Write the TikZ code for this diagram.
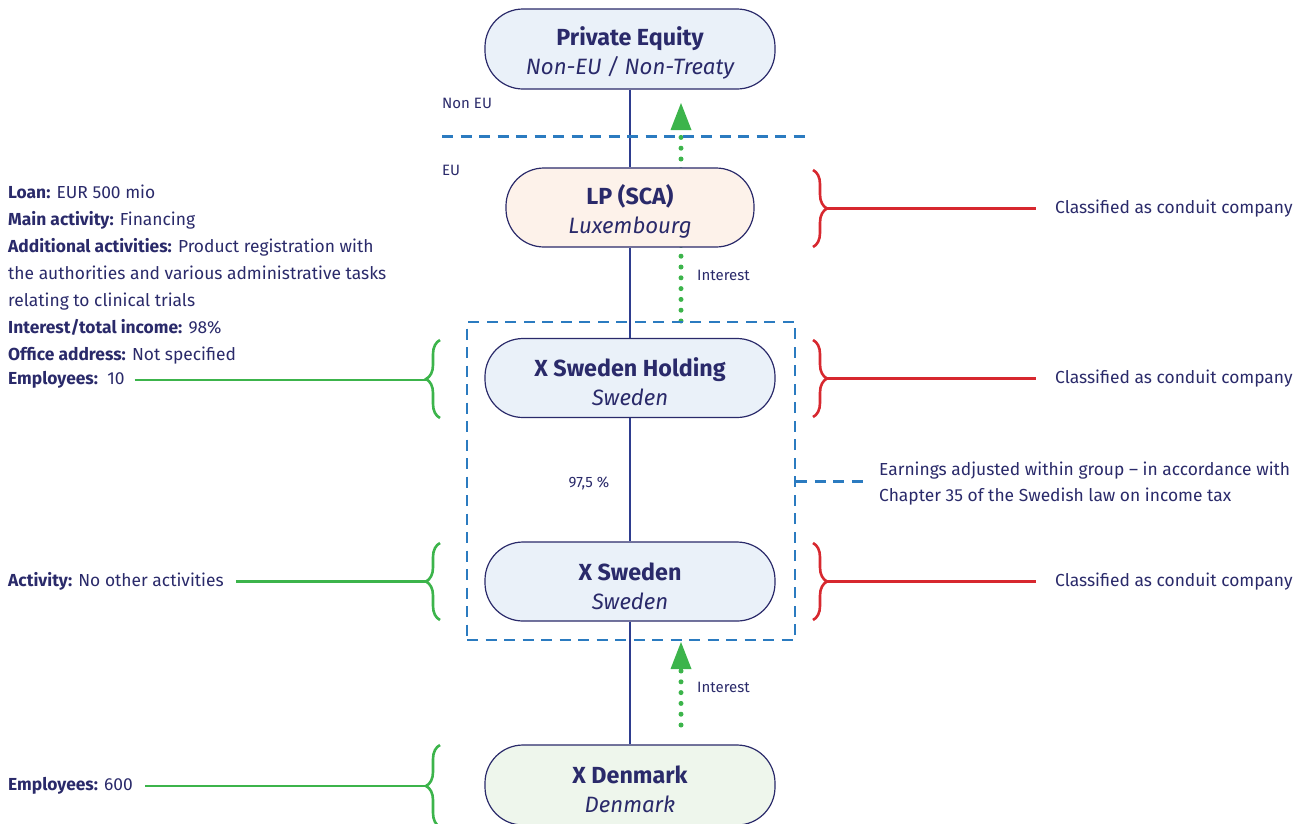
\documentclass[tikz,border=0pt]{standalone}
\usepackage{fontspec}
\setmainfont{Fira Sans}
\usetikzlibrary{arrows.meta,decorations.pathreplacing}
\definecolor{ink}{HTML}{2A2A6A}
\definecolor{stem}{HTML}{2E3D8F}
\definecolor{eublue}{HTML}{2B7BC0}
\definecolor{condred}{HTML}{D7282F}
\definecolor{flowgreen}{HTML}{3CB44B}
\definecolor{bluefill}{HTML}{EAF1F9}
\definecolor{lpfill}{HTML}{FDF2EA}
\definecolor{dkfill}{HTML}{EEF6EC}

\begin{document}
\begin{tikzpicture}[x=1pt,y=-1pt,
  firm/.style={draw=ink,line width=1.2pt,rounded corners=38pt,minimum width=290pt,minimum height=80pt,align=center,text=ink,font=\fontsize{22.2}{29}\selectfont},
  own/.style={draw=stem,line width=2pt},
  eu/.style={draw=eublue,line width=3pt,dash pattern=on 11pt off 7.5pt},
  grp/.style={draw=eublue,line width=2.6pt,dash pattern=on 11pt off 7.5pt,minimum width=328pt,minimum height=318pt,inner sep=0pt},
  flow/.style={draw=flowgreen,line width=5pt,line cap=round,dash pattern=on 0pt off 10.8pt,-{Triangle[length=27pt,width=21pt,line width=0pt]}},
  redline/.style={draw=condred,line width=2.6pt},
  greenline/.style={draw=flowgreen,line width=2.6pt},
  redbrace/.style={redline,decorate,decoration={brace,amplitude=14pt}},
  greenbrace/.style={greenline,decorate,decoration={brace,amplitude=14pt}},
  note/.style={text=ink,font=\fontsize{17.4}{26.9}\selectfont,inner sep=0pt},
  tag/.style={text=ink,font=\fontsize{15}{18}\selectfont,inner sep=0pt}]
\useasboundingbox (0,0) rectangle (1305,823);

\coordinate (int1a) at (681,321);
\coordinate (int1b) at (681,103);
\coordinate (int2a) at (681,725);
\coordinate (int2b) at (681,642);
\draw[flow] (int1a) -- (int1b);
\draw[flow] (int2a) -- (int2b);

\node[firm,fill=bluefill] (pe) at (630,49) {\rule{0pt}{27pt}{\fontsize{23.3}{29}\selectfont\bfseries Private Equity}\\\itshape Non-EU / Non-Treaty};
\node[firm,fill=lpfill,minimum width=248pt,minimum height=79pt] (lp) at (630,207.5) {\rule{0pt}{27pt}{\fontsize{23.3}{29}\selectfont\bfseries LP (SCA)}\\\itshape Luxembourg};
\node[firm,fill=bluefill,minimum height=79pt] (hold) at (630,378) {\rule{0pt}{27pt}{\fontsize{23.3}{29}\selectfont\bfseries X Sweden Holding}\\\itshape Sweden};
\node[firm,fill=bluefill,minimum height=79pt] (swe) at (630,581.5) {\rule{0pt}{27pt}{\fontsize{23.3}{29}\selectfont\bfseries X Sweden}\\\itshape Sweden};
\node[firm,fill=dkfill] (dk) at (630,785) {\rule{0pt}{27pt}{\fontsize{23.3}{29}\selectfont\bfseries X Denmark}\\\itshape Denmark};
\draw[own] (pe) -- (lp) (lp) -- (hold) (hold) -- (swe) (swe) -- (dk);

\draw[eu] (442,136) -- (812,136);
\node[tag,anchor=west] (noneu) at (442,103) {Non EU};
\node[tag,anchor=west] (eutag) at (442,170) {EU};

\node[grp] (grp) at (631,481) {};
\node[tag] (share) at (589,483) {97,5 \%};
\node[note,anchor=west,align=left,font=\fontsize{17.4}{26}\selectfont] (earn) at (879,483.5) {Earnings adjusted within group – in accordance with\\Chapter 35 of the Swedish law on income tax};
\draw[eu,shorten >=14pt] (grp.east) -- (grp.east -| earn.west);

\node[tag,anchor=west] (int1) at (697,275) {Interest};
\node[tag,anchor=west] (int2) at (697,687) {Interest};

\coordinate (lptip) at (827,208.5);
\coordinate (holdrtip) at (827,378.5);
\coordinate (swertip) at (827,581.5);
\draw[redbrace] (813,170) -- (813,247);
\draw[redbrace] (813,340) -- (813,417);
\draw[redbrace] (813,543) -- (813,620);
\node[note,anchor=west] (lpcls) at (1055,208.5) {Classified as conduit company};
\node[note,anchor=west] (holdcls) at (1055,378.5) {Classified as conduit company};
\node[note,anchor=west] (swecls) at (1055,581.5) {Classified as conduit company};
\draw[redline,shorten >=19pt] (lptip) -- (lpcls.west);
\draw[redline,shorten >=19pt] (holdrtip) -- (holdcls.west);
\draw[redline,shorten >=19pt] (swertip) -- (swecls.west);

\coordinate (holdltip) at (426,380);
\coordinate (sweltip) at (426,581.5);
\coordinate (dkltip) at (426,786);
\draw[greenbrace] (440,418) -- (440,340);
\draw[greenbrace] (440,620) -- (440,543);
\draw[greenbrace] (440,827) -- (440,745);
\node[note,anchor=north west,align=left] (lpinfo) at (8,185) {\textbf{Loan:} EUR 500 mio\\\textbf{Main activity:} Financing\\\textbf{Additional activities:} Product registration with\\the authorities and various administrative tasks\\relating to clinical trials\\\textbf{Interest/total income:} 98\%\\\textbf{Office address:} Not specified};
\node[note,anchor=west] (holdinfo) at (8,380) {\textbf{Employees:}\ \ 10};
\node[note,anchor=west] (sweinfo) at (8,581.5) {\textbf{Activity:} No other activities};
\node[note,anchor=west] (dkinfo) at (8,786) {\textbf{Employees:} 600};
\draw[greenline,shorten <=10pt] (holdinfo.east) -- (holdltip);
\draw[greenline,shorten <=12pt] (sweinfo.east) -- (sweltip);
\draw[greenline,shorten <=12pt] (dkinfo.east) -- (dkltip);
\end{tikzpicture}
\end{document}
